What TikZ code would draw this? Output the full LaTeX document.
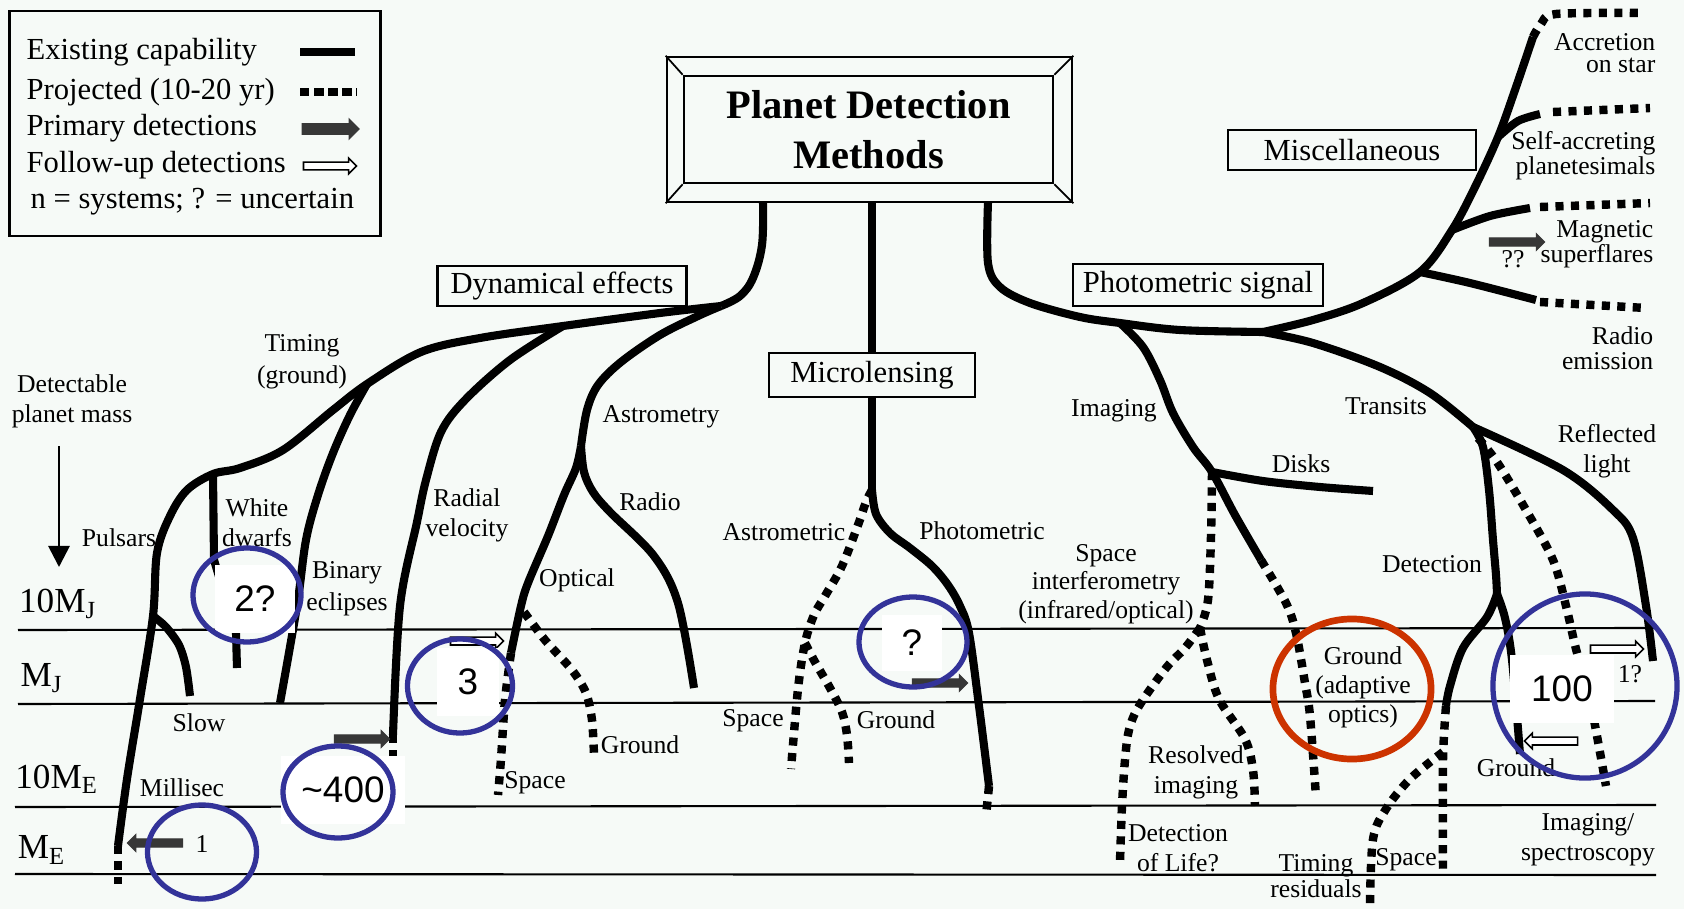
\documentclass[tikz,border=0pt]{standalone}
\usepackage{fontspec}
\setmainfont{Liberation Serif}
\newfontfamily\numfont{Liberation Sans}
\usetikzlibrary{shapes.arrows,shapes.geometric,arrows.meta}
\definecolor{bgc}{RGB}{246,250,247}
\definecolor{ellblue}{RGB}{51,51,153}
\definecolor{ellred}{RGB}{204,51,0}
\definecolor{arrgray}{RGB}{55,55,55}
\tikzset{
  solidbr/.style={line width=2.3pt, line join=round},
  dashbr/.style={line width=2.4pt, dash pattern=on 2.3pt off 2.1pt},
  gridln/.style={line width=0.6pt},
  lbl/.style={font=\fontsize{7.3}{8.6}\selectfont, align=center, inner sep=0pt},
  rlbl/.style={font=\fontsize{7.3}{7.0}\selectfont, align=right, inner sep=0pt, anchor=east},
  boxlbl/.style={draw, line width=0.7pt, fill=bgc, font=\fontsize{8.7}{10}\selectfont, inner sep=0pt},
  axlbl/.style={font=\fontsize{10}{11}\selectfont, inner sep=0pt},
  numbox/.style={fill=white, inner sep=0pt, font=\numfont\fontsize{10.5}{12}\selectfont},
  blueell/.style={ellipse, draw=ellblue, line width=1.5pt, inner sep=0pt},
  redell/.style={ellipse, draw=ellred, line width=1.9pt, inner sep=0pt},
  primarr/.style={single arrow, fill=arrgray, draw=arrgray, line width=0.3pt, inner xsep=0pt, inner ysep=1pt, single arrow head extend=1.2pt, minimum height=0.55cm},
  followarr/.style={single arrow, fill=white, draw=black, line width=0.45pt, inner xsep=0pt, inner ysep=0.9pt, single arrow head extend=1.1pt, minimum height=0.53cm},
  legtxt/.style={font=\fontsize{8.7}{10}\selectfont, inner sep=0pt, anchor=west},
}
\begin{document}
\begin{tikzpicture}[x=0.01cm,y=-0.01cm]
\fill[bgc] (0,0) rectangle (1684,909);
\useasboundingbox (0,0) rectangle (1684,909);

% ---------- horizontal mass levels ----------
\draw[gridln] (18,630) -- (1655,628);
\draw[gridln] (18,704) -- (1655,701);
\draw[gridln] (15,807) -- (1656,805);
\draw[gridln] (15,874) -- (1656,875);
\node[axlbl] (mj10) at (58,604) {10M\textsubscript{J}};
\node[axlbl] (mj) at (42,678) {M\textsubscript{J}};
\node[axlbl] (me10) at (57,779) {10M\textsubscript{E}};
\node[axlbl] (me) at (42,850) {M\textsubscript{E}};

% ---------- legend ----------
\node[draw, line width=0.8pt, minimum width=3.70cm, minimum height=2.25cm] (legend) at (195,123.5) {};
\node[legtxt] (lg1) at (26,52) {Existing capability};
\node[legtxt] (lg2) at (26,92) {Projected (10-20 yr)};
\node[legtxt] (lg3) at (26,128) {Primary detections};
\node[legtxt] (lg4) at (26,165) {Follow-up detections};
\node[legtxt] (lg5) at (30,202) {n = systems; ? = uncertain};
\coordinate (lsa) at (300,52); \coordinate (lsb) at (355,52);
\coordinate (lda) at (300,92); \coordinate (ldb) at (357,92);
\draw[line width=2.4pt] (lsa) -- (lsb);
\draw[line width=2.4pt, dash pattern=on 2.7pt off 1.3pt] (lda) -- (ldb);
\node[primarr, inner ysep=1.4pt, single arrow head extend=1.3pt, minimum height=0.57cm] (lga) at (328,129) {};
\node[followarr] (lgb) at (328,166) {};

% ---------- title ----------
\node[draw, line width=0.7pt, minimum width=4.05cm, minimum height=1.45cm] (frame) at (869.5,129.5) {};
\node[draw, line width=0.7pt, minimum width=3.69cm, minimum height=1.07cm, align=center,
      font=\bfseries\fontsize{11.5}{14.2}\selectfont] (title) at (868.5,129.5) {Planet Detection\\Methods};
\draw[line width=0.5pt] (frame.north west) -- (title.north west)
  (frame.north east) -- (title.north east)
  (frame.south west) -- (title.south west)
  (frame.south east) -- (title.south east);

% ---------- category boxes ----------
\node[boxlbl, minimum width=2.49cm, minimum height=0.40cm] (dyn) at (562,286) {Dynamical effects};
\node[boxlbl, minimum width=2.50cm, minimum height=0.42cm] (phot) at (1198,285) {Photometric signal};
\node[boxlbl, minimum width=2.48cm, minimum height=0.40cm] (misc) at (1352,150) {Miscellaneous};

% ---------- junction coordinates ----------
\coordinate (tl) at (763,202);
\coordinate (JD) at (721,306);
\coordinate (JR) at (563,326);
\coordinate (JT) at (367,384);
\coordinate (JW) at (213,474);
\coordinate (JS) at (153,616);
\coordinate (EP) at (118,846);
\coordinate (EPd) at (118,884);
\coordinate (ES) at (190,696);
\coordinate (EW) at (237,668);
\coordinate (EB) at (280,703);
\coordinate (ERV) at (393,735);
\coordinate (ERVd) at (393,760);
\coordinate (JA) at (581,446);
\coordinate (ERa) at (694,688);
\coordinate (EO) at (511,653);
\coordinate (EOd) at (498,795);
\coordinate (SG) at (524,612);
\coordinate (EG) at (594,755);
\coordinate (tm) at (872,202);
\coordinate (JM) at (872,490);
\coordinate (EPh) at (989,786);
\coordinate (EPhd) at (986,816);
\coordinate (JAs) at (805,643);
\coordinate (EAS) at (791,769);
\coordinate (EAG) at (849,763);
\coordinate (tr) at (988,202);
\coordinate (JI) at (1120,323);
\coordinate (JX) at (1263,332);
\coordinate (JDk) at (1212,472);
\coordinate (EDk) at (1373,491);
\coordinate (EI) at (1261,560);
\coordinate (EId) at (1316,797);
\coordinate (JSI) at (1200,628);
\coordinate (EL) at (1120,862);
\coordinate (ERI) at (1255,806);
\coordinate (JTr) at (1473,427);
\coordinate (JDe) at (1497,594);
\coordinate (ESp) at (1446,706);
\coordinate (ESpd) at (1443,873);
\coordinate (JTR) at (1443,752);
\coordinate (ETR) at (1370,905);
\coordinate (EGr) at (1520,754);
\coordinate (ERl) at (1653,661);
\coordinate (SDd) at (1478,438);
\coordinate (EDd) at (1606,786);
\coordinate (JRa) at (1420,272);
\coordinate (JMg) at (1452,230);
\coordinate (JSa) at (1498,137);
\coordinate (EAc) at (1533,37);
\coordinate (EAcd) at (1643,13);
\coordinate (ESa) at (1540,114);
\coordinate (ESad) at (1650,108);
\coordinate (EMg) at (1530,208);
\coordinate (EMgd) at (1650,203);
\coordinate (ERd) at (1536,300);
\coordinate (ERdd) at (1646,308);

% ---------- microlensing box ----------
\node[boxlbl, minimum width=2.06cm, minimum height=0.44cm] (micro) at (872,375) {Microlensing};

% ---------- dynamical effects tree ----------
\draw[solidbr] plot[smooth, tension=0.6] coordinates {(tl) (762,245) (753,278) (740,296) (JD)};
\draw[solidbr] plot[smooth, tension=0.55] coordinates {(JD) (660,313) (JR) (480,338) (421,352) (JT) (333,410) (283,450) (240,468) (JW) (187,490) (170,516) (157,553) (JS) (140,699) (127,779) (EP)};
\draw[dashbr] (EP) -- (EPd);
\draw[solidbr] plot[smooth] coordinates {(JS) (166,627) (179,645) (186,667) (ES)};
\draw[solidbr] (JW) -- (214,560) -- (236,633) -- (EW);
\draw[solidbr] plot[smooth, tension=0.55] coordinates {(JT) (350,415) (333,453) (318,495) (306,540) (297,606) (EB)};
\draw[solidbr] plot[smooth, tension=0.55] coordinates {(JR) (510,360) (465,400) (441,432) (426,480) (417,522) (400,606) (ERV)};
\draw[dashbr] (ERV) -- (ERVd);
\draw[solidbr] plot[smooth, tension=0.55] coordinates {(JD) (698,316) (660,335) (621,362) (598,385) (587,410) (JA)};
\draw[solidbr] plot[smooth, tension=0.55] coordinates {(JA) (576,468) (564,495) (548,536) (528,583) (521,606) (EO)};
\draw[solidbr] plot[smooth, tension=0.55] coordinates {(JA) (584,472) (593,492) (610,512) (654,556) (678,603) (ERa)};
\draw[dashbr] plot[smooth] coordinates {(EO) (505,700) (501,759) (EOd)};
\draw[dashbr] plot[smooth] coordinates {(SG) (545,640) (572,670) (586,693) (592,720) (EG)};

% ---------- microlensing tree ----------
\draw[solidbr] (tm) -- (micro.north);
\draw[solidbr] (micro.south) -- (JM);
\draw[solidbr] plot[smooth, tension=0.55] coordinates {(JM) (876,514) (890,533) (910,548) (932,566) (948,585) (960,606) (969,633) (979,706) (EPh)};
\draw[dashbr] (EPh) -- (EPhd);
\draw[dashbr] plot[smooth, tension=0.55] coordinates {(JM) (866,502) (858,525) (842,566) (825,596) (814,615) (JAs) (798,689) (EAS)};
\draw[dashbr] plot[smooth, tension=0.55] coordinates {(JAs) (815,662) (830,688) (842,712) (847,735) (EAG)};

% ---------- photometric tree ----------
\draw[solidbr] plot[smooth, tension=0.55] coordinates {(tr) (988,263) (1000,287) (1030,303) (1080,317) (JI) (1180,330) (JX)};
\draw[solidbr] plot[smooth, tension=0.55] coordinates {(JI) (1143,347) (1160,380) (1173,413) (1193,447) (JDk) (1235,515) (EI)};
\draw[solidbr] plot[smooth, tension=0.5] coordinates {(JDk) (1263,481) (1320,487) (EDk)};
\draw[dashbr] plot[smooth, tension=0.55] coordinates {(EI) (1286,603) (1296,633) (1305,683) (1310,716) (EId)};
\draw[dashbr] plot[smooth, tension=0.55] coordinates {(JDk) (1211,536) (1208,600) (JSI)};
\draw[dashbr] plot[smooth, tension=0.55] coordinates {(JSI) (1185,648) (1166,668) (1139,706) (1129,730) (1125,760) (1122,806) (EL)};
\draw[dashbr] plot[smooth, tension=0.55] coordinates {(JSI) (1207,660) (1219,699) (1245,739) (1253,770) (ERI)};
\draw[solidbr] plot[smooth, tension=0.55] coordinates {(JX) (1313,343) (1380,367) (1430,393) (JTr)};
\draw[solidbr] plot[smooth, tension=0.55] coordinates {(JTr) (1483,447) (1489,490) (1493,540) (1496,575) (JDe)};
\draw[solidbr] plot[smooth, tension=0.55] coordinates {(JDe) (1487,617) (1463,648) (1450,686) (ESp)};
\draw[dashbr] plot[smooth] coordinates {(ESp) (1443,760) (ESpd)};
\draw[dashbr] plot[smooth, tension=0.55] coordinates {(JTR) (1410,779) (1386,809) (1373,839) (ETR)};
\draw[solidbr] plot[smooth, tension=0.55] coordinates {(JDe) (1505,618) (1512,660) (EGr)};
\draw[solidbr] plot[smooth, tension=0.55] coordinates {(JTr) (1563,470) (1613,510) (1633,538) (1646,606) (ERl)};
\draw[dashbr] plot[smooth, tension=0.55] coordinates {(SDd) (1497,462) (1526,510) (1553,560) (1566,606) (1576,649) (1590,700) (EDd)};

% ---------- miscellaneous tree ----------
\draw[solidbr] plot[smooth, tension=0.55] coordinates {(JX) (1313,320) (1363,303) (JRa) (JMg) (1475,187) (JSa) (1515,90) (EAc)};
\draw[solidbr] plot[smooth] coordinates {(JRa) (1470,283) (ERd)};
\draw[solidbr] plot[smooth] coordinates {(JMg) (1490,216) (EMg)};
\draw[solidbr] plot[smooth] coordinates {(JSa) (1518,121) (ESa)};
\draw[dashbr] plot[smooth, tension=0.5] coordinates {(EAc) (1541,24) (1556,14) (EAcd)};
\draw[dashbr] (ESa) ++(13,-2) -- (ESad);
\draw[dashbr] (EMg) ++(10,-1) -- (EMgd);
\draw[dashbr] (ERd) ++(4,2) -- (ERdd);

% ---------- labels ----------
\node[lbl] (ldet) at (72,401) {Detectable\\planet mass};
\coordinate (ar1) at (59,446); \coordinate (ar2) at (59,567);
\draw[line width=0.8pt, -{Triangle[length=6pt,width=6pt]}] (ar1) -- (ar2);
\node[lbl] (lpul) at (119,538) {Pulsars};
\node[lbl] (lwd) at (257,523) {White\\dwarfs};
\node[lbl, font=\fontsize{7.3}{9.2}\selectfont] (ltim) at (302,362) {Timing\\(ground)};
\node[lbl, font=\fontsize{7.3}{9.2}\selectfont] (lbin) at (347,589) {Binary\\eclipses};
\node[lbl] (lrv) at (467,515) {Radial\\velocity};
\node[lbl] (last) at (661,417) {Astrometry};
\node[lbl] (lrad) at (650,502) {Radio};
\node[lbl] (lopt) at (577,580) {Optical};
\node[lbl] (lslow) at (199,723) {Slow};
\node[lbl] (lmil) at (182,788) {Millisec};
\node[lbl] (lsp1) at (535,783) {Space};
\node[lbl] (lgr1) at (640,745) {Ground};
\node[lbl] (lastc) at (784,532) {Astrometric};
\node[lbl] (lphc) at (982,531) {Photometric};
\node[lbl] (lsp2) at (753,721) {Space};
\node[lbl] (lgr2) at (896,720) {Ground};
\node[lbl] (limg) at (1114,411) {Imaging};
\node[lbl] (ldisk) at (1301,464) {Disks};
\node[lbl, font=\fontsize{7.3}{8.1}\selectfont] (lsi) at (1106,584) {Space\\interferometry\\(infrared/optical)};
\node[lbl] (lres) at (1196,772) {Resolved\\imaging};
\node[lbl] (llife) at (1178,848) {Detection\\of Life?};
\node[lbl, font=\fontsize{7.3}{8.2}\selectfont] (lao) at (1363,687) {Ground\\(adaptive\\optics)};
\node[lbl] (ltr) at (1386,406) {Transits};
\node[lbl] (ldtc) at (1432,564) {Detection};
\node[lbl] (lrefl) at (1607,451) {Reflected\\light};
\node[lbl] (lgr3) at (1516,768) {Ground};
\node[lbl] (lis) at (1588,840) {Imaging/\\spectroscopy};
\node[lbl, font=\fontsize{7.3}{7.2}\selectfont] (ltres) at (1316,876) {Timing\\residuals};
\node[lbl] (lsp3) at (1406,860) {Space};
\node[rlbl, font=\fontsize{7.3}{6.3}\selectfont] (lacc) at (1656,53) {Accretion\\on star};
\node[rlbl] (lsa) at (1656,156) {Self-accreting\\planetesimals};
\node[rlbl] (lmag) at (1654,244) {Magnetic\\superflares};
\node[rlbl] (lre) at (1654,348) {Radio\\emission};
\node[lbl] (lqq) at (1513,259) {??};
\node[lbl] (lone) at (202,844) {1};
\node[lbl] (lone2) at (1630,674) {1?};

% ---------- detection arrows ----------
\node[primarr, shape border rotate=180] (a1) at (157,843) {};
\node[primarr] (a2) at (360,739) {};
\node[followarr] (a3) at (475,641) {};
\node[primarr] (a4) at (938,683) {};
\node[primarr] (a5) at (1515,242) {};
\node[followarr] (a6) at (1615,649) {};
\node[followarr, shape border rotate=180] (a7) at (1553,741) {};

% ---------- annotation boxes and ellipses ----------
\node[numbox, minimum width=0.80cm, minimum height=0.68cm] (n2) at (255,599) {2?};
\node[blueell, minimum width=1.08cm, minimum height=0.94cm] (c2) at (247,595) {};
\node[numbox, minimum width=1.23cm, minimum height=0.67cm] (n400) at (343,790) {\textasciitilde400};
\node[blueell, minimum width=1.10cm, minimum height=0.92cm] (c400) at (338,792) {};
\node[numbox, minimum width=0.61cm, minimum height=0.68cm] (n3) at (468,682) {3};
\node[blueell, minimum width=1.05cm, minimum height=0.94cm] (c3) at (460,686) {};
\node[numbox, minimum width=0.60cm, minimum height=0.56cm] (nq) at (912,643) {?};
\node[blueell, minimum width=1.08cm, minimum height=0.90cm] (cq) at (913,642) {};
\node[numbox, minimum width=1.03cm, minimum height=0.67cm] (n100) at (1562,689) {100};
\node[blueell, minimum width=1.84cm, minimum height=1.84cm] (c100) at (1585,686) {};
\node[blueell, minimum width=1.09cm, minimum height=0.94cm] (c1) at (202,852) {};
\node[redell, minimum width=1.58cm, minimum height=1.40cm] (cao) at (1352,689) {};
\end{tikzpicture}
\end{document}
